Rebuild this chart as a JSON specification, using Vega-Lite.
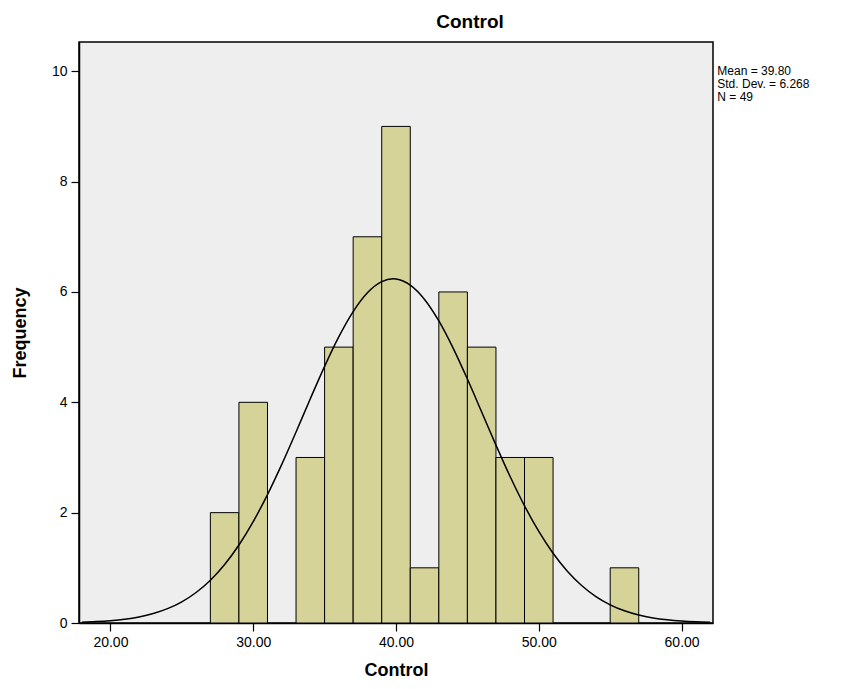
{
  "$schema": "https://vega.github.io/schema/vega-lite/v6.json",
  "width": 634,
  "height": 581,
  "autosize": {"type": "none"},
  "padding": {"left": 79, "top": 42, "right": 144, "bottom": 66},
  "background": "#ffffff",
  "config": {
    "font": "Liberation Sans",
    "view": {"fill": "#eeeeee", "stroke": "#000000", "strokeWidth": 1.5},
    "axis": {
      "grid": false,
      "domainColor": "#000000",
      "domainWidth": 1.5,
      "tickColor": "#000000",
      "tickSize": 8,
      "tickWidth": 1.2,
      "labelColor": "#000000",
      "labelFont": "Liberation Sans",
      "labelFontSize": 14,
      "titleFont": "Liberation Sans",
      "titleFontSize": 18,
      "titleFontWeight": "bold",
      "titleColor": "#000000"
    }
  },
  "title": {
    "text": "Control",
    "font": "Liberation Sans",
    "fontSize": 19,
    "fontWeight": "bold",
    "color": "#000000",
    "anchor": "middle",
    "dx": 74,
    "offset": 10
  },
  "layer": [
    {
      "data": {
        "values": [
          {"start": 27, "end": 29, "count": 2},
          {"start": 29, "end": 31, "count": 4},
          {"start": 33, "end": 35, "count": 3},
          {"start": 35, "end": 37, "count": 5},
          {"start": 37, "end": 39, "count": 7},
          {"start": 39, "end": 41, "count": 9},
          {"start": 41, "end": 43, "count": 1},
          {"start": 43, "end": 45, "count": 6},
          {"start": 45, "end": 47, "count": 5},
          {"start": 47, "end": 49, "count": 3},
          {"start": 49, "end": 51, "count": 3},
          {"start": 55, "end": 57, "count": 1}
        ]
      },
      "mark": {"type": "rect", "fill": "#d6d398", "stroke": "#000000", "strokeWidth": 1},
      "encoding": {
        "x": {
          "field": "start", "type": "quantitative",
          "scale": {"domain": [17.8, 62.2], "nice": false, "zero": false},
          "axis": {"values": [20, 30, 40, 50, 60], "format": ".2f", "title": "Control", "titlePadding": 12, "labelPadding": 4}
        },
        "x2": {"field": "end"},
        "y": {
          "field": "count", "type": "quantitative",
          "scale": {"domain": [0, 10.53], "nice": false},
          "axis": {"values": [0, 2, 4, 6, 8, 10], "format": "d", "title": "Frequency", "titlePadding": 22, "labelPadding": 4}
        },
        "y2": {"datum": 0}
      }
    },
    {
      "data": {
        "values": [
          {"x": 18, "f": 0.0147}, {"x": 19, "f": 0.0254}, {"x": 20, "f": 0.0425},
          {"x": 21, "f": 0.0694}, {"x": 22, "f": 0.1106}, {"x": 23, "f": 0.1718},
          {"x": 24, "f": 0.2601}, {"x": 25, "f": 0.384}, {"x": 26, "f": 0.5527},
          {"x": 27, "f": 0.7754}, {"x": 28, "f": 1.0603}, {"x": 29, "f": 1.4134},
          {"x": 30, "f": 1.8373}, {"x": 31, "f": 2.3279}, {"x": 32, "f": 2.8755},
          {"x": 33, "f": 3.4626}, {"x": 34, "f": 4.0649}, {"x": 35, "f": 4.652},
          {"x": 36, "f": 5.19}, {"x": 37, "f": 5.6447}, {"x": 38, "f": 5.985},
          {"x": 39, "f": 6.1864}, {"x": 39.8, "f": 6.237}, {"x": 40, "f": 6.2338},
          {"x": 41, "f": 6.1237}, {"x": 42, "f": 5.8644}, {"x": 43, "f": 5.4749},
          {"x": 44, "f": 4.9828}, {"x": 45, "f": 4.421}, {"x": 46, "f": 3.8242},
          {"x": 47, "f": 3.2245}, {"x": 48, "f": 2.6507}, {"x": 49, "f": 2.1241},
          {"x": 50, "f": 1.6593}, {"x": 51, "f": 1.2639}, {"x": 52, "f": 0.9384},
          {"x": 53, "f": 0.6791}, {"x": 54, "f": 0.4792}, {"x": 55, "f": 0.3297},
          {"x": 56, "f": 0.2211}, {"x": 57, "f": 0.1445}, {"x": 58, "f": 0.0921},
          {"x": 59, "f": 0.0573}, {"x": 60, "f": 0.0347}, {"x": 61, "f": 0.0205},
          {"x": 62, "f": 0.0118}
        ]
      },
      "mark": {"type": "line", "color": "#000000", "strokeWidth": 1.5, "interpolate": "monotone"},
      "encoding": {
        "x": {"field": "x", "type": "quantitative"},
        "y": {"field": "f", "type": "quantitative"}
      }
    },
    {
      "data": {
        "values": [
          {"label": "Mean = 39.80", "x": 62.5, "y": 10.0},
          {"label": "Std. Dev. = 6.268", "x": 62.5, "y": 9.765},
          {"label": "N = 49", "x": 62.5, "y": 9.53}
        ]
      },
      "mark": {"type": "text", "align": "left", "baseline": "middle", "fontSize": 12, "font": "Liberation Sans", "color": "#000000", "clip": false},
      "encoding": {
        "x": {"field": "x", "type": "quantitative"},
        "y": {"field": "y", "type": "quantitative"},
        "text": {"field": "label"}
      }
    }
  ]
}
